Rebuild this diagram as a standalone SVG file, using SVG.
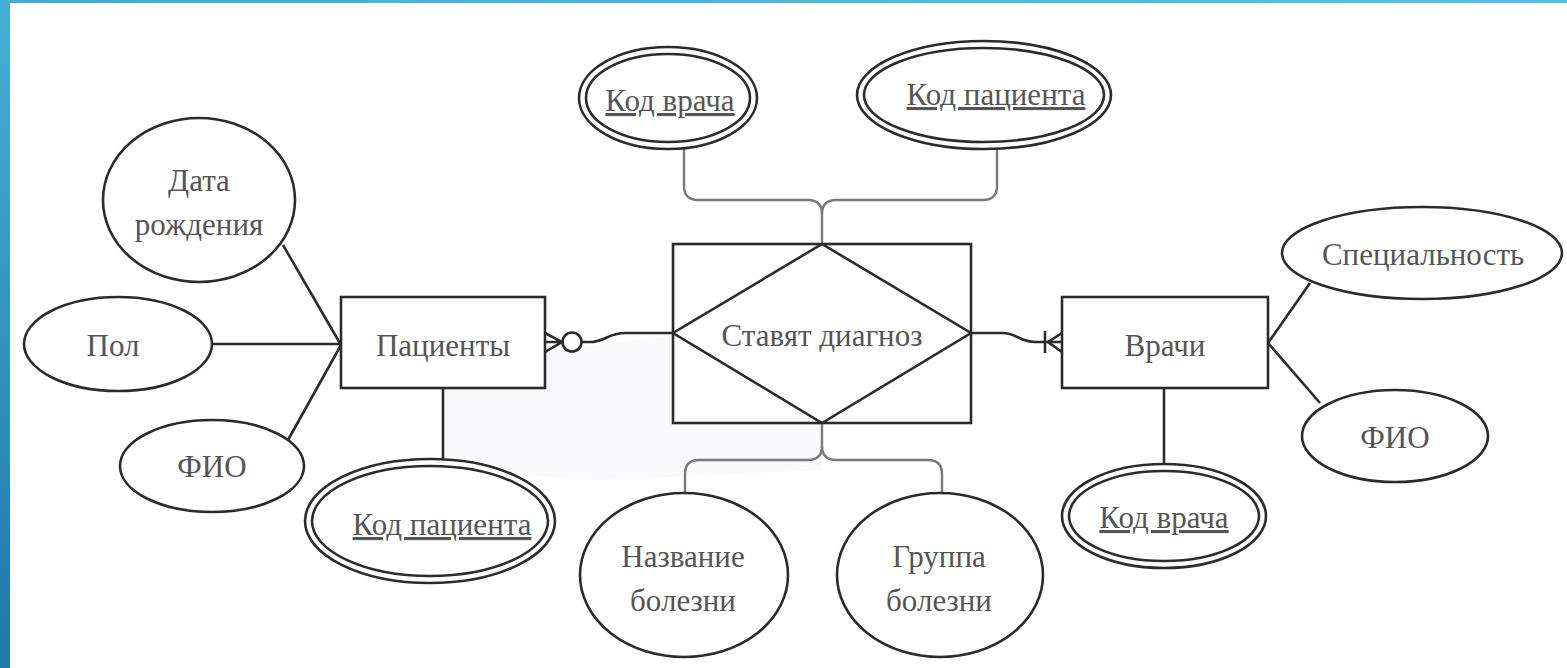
<svg xmlns="http://www.w3.org/2000/svg" width="1567" height="668" viewBox="0 0 1567 668">
<style>
.ln{fill:none;stroke:#2b2b2b;stroke-width:2.6}
.br{fill:none;stroke:#7a7a7a;stroke-width:2.4}
.sh{fill:#fff;stroke:#2b2b2b;stroke-width:2.6}
.k{text-decoration:underline}
</style>
<defs>
<linearGradient id="lg" x1="0" y1="0" x2="0" y2="1">
<stop offset="0" stop-color="#46afd6"/>
<stop offset="1" stop-color="#2276aa"/>
</linearGradient>
<linearGradient id="tg" x1="0" y1="0" x2="1" y2="0">
<stop offset="0" stop-color="#44acd4"/>
<stop offset="1" stop-color="#58c2e2"/>
</linearGradient>
</defs>
<rect width="1567" height="668" fill="#fff"/>
<polygon points="445,390 545,352 672,335 822,423 822,470 600,480 445,470" fill="#fafafc"/>
<rect x="0" y="0" width="1567" height="3" fill="url(#tg)"/>
<rect x="0" y="0" width="10" height="668" fill="url(#lg)"/>

<g id="connectors">
<line class="ln" x1="283" y1="245" x2="341" y2="345"/>
<line class="ln" x1="212" y1="344" x2="341" y2="344"/>
<line class="ln" x1="288" y1="440" x2="341" y2="345"/>
<line class="ln" x1="443" y1="388" x2="443" y2="459"/>
<line class="ln" x1="1268" y1="343" x2="1310" y2="283"/>
<line class="ln" x1="1268" y1="343" x2="1320" y2="403"/>
<line class="ln" x1="1164" y1="388" x2="1164" y2="466"/>
<path class="ln" d="M582,342 H590 C605,342 608,333 625,333 H673"/>
<path class="ln" d="M545,333 L562,342 L545,352 M545,342 H562"/>
<circle class="ln" cx="572" cy="342" r="9.5"/>
<path class="ln" d="M971,333 H1002 C1017,333 1020,342 1035,342 H1062"/>
<path class="ln" d="M1062,333 L1048,342 L1062,352 M1045,331 V353"/>
<path class="br" d="M684,149 V186 Q684,200 698,200 H808 Q822,200 822,214 V243"/>
<path class="br" d="M997,149 V186 Q997,200 983,200 H836 Q822,200 822,214"/>
<path class="br" d="M822,423 V446 Q822,460 808,460 H699 Q685,460 685,474 V494"/>
<path class="br" d="M822,446 Q822,460 836,460 H928 Q942,460 942,474 V494"/>
</g>

<g font-family="Liberation Serif, Tinos, Times New Roman, DejaVu Serif, serif" font-size="31" fill="#555" text-anchor="middle">
<g id="relationship">
<rect class="sh" x="673" y="244" width="298" height="179"/>
<polygon class="ln" points="822,244 971,333 822,423 673,333"/>
<text x="822" y="346">Ставят диагноз</text>
</g>

<g id="patients">
<rect class="sh" x="341" y="297" width="204" height="91"/>
<text x="443" y="356">Пациенты</text>
</g>
<g id="doctors">
<rect class="sh" x="1062" y="297" width="206" height="91"/>
<text x="1165" y="356">Врачи</text>
</g>

<g id="attr-birthdate">
<ellipse class="sh" cx="199" cy="200" rx="96" ry="82"/>
<text x="199" y="191">Дата</text>
<text x="199" y="235">рождения</text>
</g>
<g id="attr-sex">
<ellipse class="sh" cx="118" cy="344" rx="94" ry="47"/>
<text x="113" y="356">Пол</text>
</g>
<g id="attr-fio-patient">
<ellipse class="sh" cx="212" cy="466" rx="92" ry="46"/>
<text x="212" y="477">ФИО</text>
</g>
<g id="attr-patient-id">
<ellipse class="sh" cx="430" cy="521" rx="125" ry="62"/>
<ellipse class="ln" cx="430" cy="521" rx="118" ry="55"/>
<text class="k" x="442" y="535">Код пациента</text>
</g>

<g id="attr-doctor-id-top">
<ellipse class="sh" cx="668" cy="98" rx="89" ry="51"/>
<ellipse class="ln" cx="668" cy="98" rx="82" ry="44"/>
<text class="k" x="670" y="111">Код врача</text>
</g>
<g id="attr-patient-id-top">
<ellipse class="sh" cx="984" cy="95" rx="127" ry="54"/>
<ellipse class="ln" cx="984" cy="95" rx="120" ry="47"/>
<text class="k" x="996" y="105">Код пациента</text>
</g>

<g id="attr-disease-name">
<ellipse class="sh" cx="684" cy="575" rx="104" ry="82"/>
<text x="683" y="567">Название</text>
<text x="683" y="611">болезни</text>
</g>
<g id="attr-disease-group">
<ellipse class="sh" cx="940" cy="575" rx="103" ry="82"/>
<text x="939" y="567">Группа</text>
<text x="939" y="611">болезни</text>
</g>

<g id="attr-specialty">
<ellipse class="sh" cx="1422" cy="253" rx="140" ry="46"/>
<text x="1423" y="265">Специальность</text>
</g>
<g id="attr-fio-doctor">
<ellipse class="sh" cx="1395" cy="436" rx="93" ry="46"/>
<text x="1395" y="448">ФИО</text>
</g>
<g id="attr-doctor-id">
<ellipse class="sh" cx="1164" cy="516" rx="102" ry="52"/>
<ellipse class="ln" cx="1164" cy="516" rx="95" ry="45"/>
<text class="k" x="1164" y="528">Код врача</text>
</g>
</g>
</svg>
